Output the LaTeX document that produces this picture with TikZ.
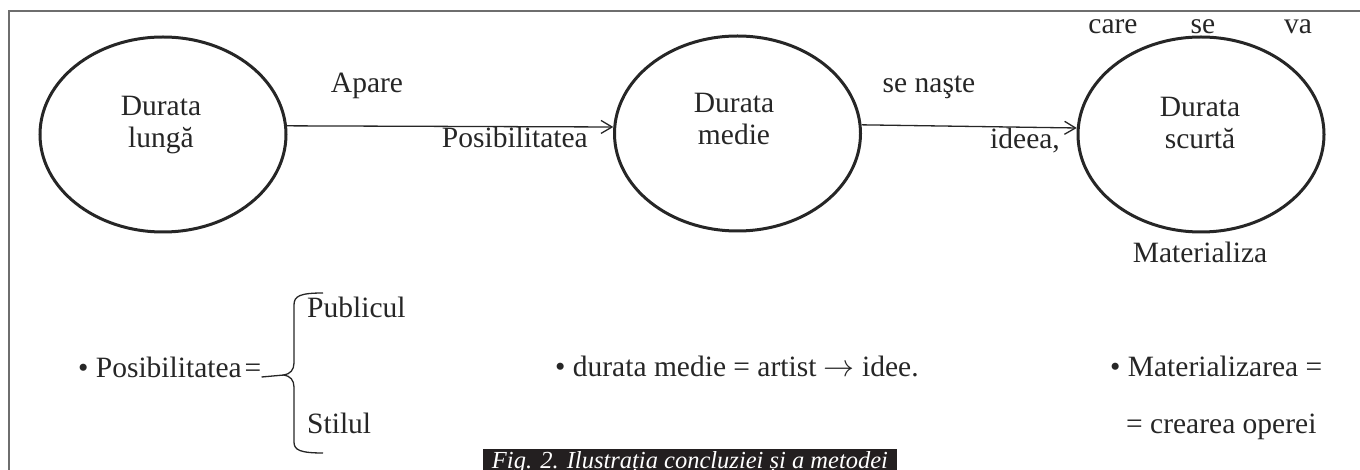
\documentclass[tikz,border=0pt]{standalone}
\usepackage{fix-cm}
\usepackage{fontspec}
\setmainfont{Liberation Serif}
\usetikzlibrary{shapes.geometric,arrows.meta}
\definecolor{ink}{HTML}{262626}
\definecolor{framec}{HTML}{6E6E6E}
\definecolor{capbg}{HTML}{231F20}
\begin{document}
\begin{tikzpicture}[x=1pt,y=-1pt,
  txt/.style={font=\fontsize{29.5}{32}\selectfont, text=ink, inner sep=0pt},
  oval/.style={draw=ink, line width=3pt, ellipse, minimum width=246pt, minimum height=195pt, inner sep=0pt},
  link/.style={draw=ink, line width=1.3pt, -{Straight Barb[length=11pt,width=13pt]}},
  bracestyle/.style={draw=ink, line width=1.3pt},
  capbox/.style={anchor=base, fill=capbg, text=white, inner xsep=0pt, inner ysep=0pt,
     minimum width=414pt, text height=20pt, text depth=8pt,
     font=\fontsize{24.5}{28}\selectfont\itshape}]
\useasboundingbox (0,0) rectangle (1360,470);
% frame
\draw[framec, line width=1.5pt] (9,475) -- (9,11) -- (1365,11);
% ellipses
\node[oval] (c1) at (163,134.5) {};
\node[oval] (c2) at (737.5,133.5) {};
\node[oval] (c3) at (1201,134.5) {};
\node[txt, align=center] (t1) at (161,125) {\strut Durata\\\strut lungă};
\node[txt, align=center] (t2) at (734,122.5) {\strut Durata\\\strut medie};
\node[txt, align=center] (t3) at (1200,126) {\strut Durata\\\strut scurtă};
% connectors
\draw[link] (c1.4) -- (c2.177);
\draw[link] (c2.4) -- (c3.177);
% labels
\node[txt, anchor=base] (apare) at (367,93) {Apare};
\node[txt, anchor=base east] (pos) at (588,148) {Posibilitatea};
\node[txt, anchor=base] (nas) at (929,93) {se naşte};
\node[txt, anchor=base east] (idea) at (1060,149) {ideea,};
\node[txt, anchor=base] (care) at (1113,34) {care};
\node[txt, anchor=base] (se) at (1203,34) {se};
\node[txt, anchor=base] (va) at (1298,34) {va};
\node[txt, anchor=base] (mat) at (1200,263) {Materializa};
% bottom row
\node[txt, anchor=base west] (b1) at (78,377) {• Posibilitatea\hspace{0.1em}=};
\node[txt, anchor=base west] (pub) at (307,318) {Publicul};
\node[txt, anchor=base west] (sti) at (307,433) {Stilul};
\coordinate (btip) at (284,375);
\draw[bracestyle] (b1.base east) -- (btip);
\draw[bracestyle] (323,293) .. controls (300,293) and (294,296) .. (294,305)
   -- (294,363) .. controls (294,370) and (290,374) .. (btip)
   .. controls (290,376) and (294,380) .. (294,387)
   -- (294,442) .. controls (294,450) and (300,453) .. (323,453);
\node[txt, anchor=base west] (b2) at (555,376) {• durata medie = artist \scalebox{1.05}{$\rightarrow$} idee.};
\node[txt, anchor=base west] (b3) at (1110,376) {• Materializarea =};
\node[txt, anchor=base west] (b4) at (1126,433) {= crearea operei};
% caption
\node[capbox] (cap) at (690,468.5) {Fig. 2. Ilustrația concluziei și a metodei};
\end{tikzpicture}
\end{document}
